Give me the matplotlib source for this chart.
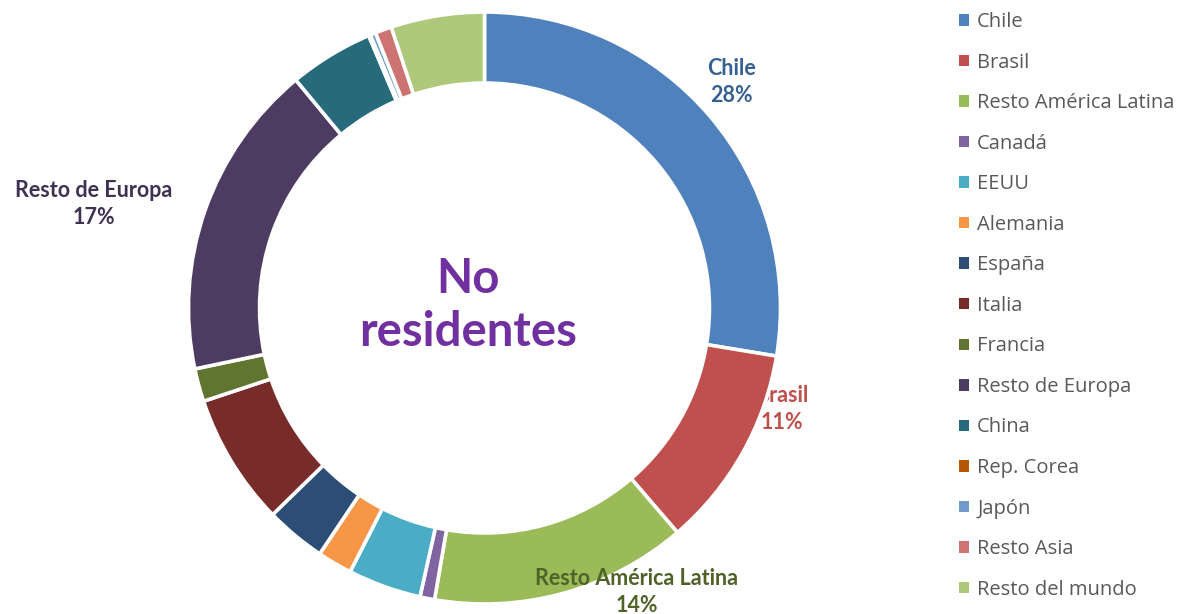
import matplotlib
matplotlib.use("Agg")
import matplotlib.pyplot as plt
from matplotlib.patches import Patch

# shares of non-resident visitors (percent), read off the ring, clockwise from top
paises = ["Chile", "Brasil", "Resto América Latina", "Canadá", "EEUU", "Alemania",
          "España", "Italia", "Francia", "Resto de Europa", "China", "Rep. Corea",
          "Japón", "Resto Asia", "Resto del mundo"]
valores = [27.6, 11.1, 14.0, 0.8, 4.0, 1.9, 3.3, 7.2, 1.8, 17.3, 4.6, 0.1, 0.3, 0.9, 5.1]
colores = ["#4F81BD", "#C0504D", "#9BBB59", "#8064A2", "#4BACC6", "#F79646",
           "#2C4D75", "#772C2A", "#5F7530", "#4D3B62", "#276A7C", "#B65708",
           "#729ACA", "#CD7371", "#AFC97A"]

# only these get a label on the chart: colour, x, y, drawn under the ring?
etiquetas = {"Chile": ("#376092", 0.833, 0.765, False),
             "Brasil": ("#C0504D", 1.005, -0.34, True),
             "Resto América Latina": ("#4F6228", 0.515, -0.96, False),
             "Resto de Europa": ("#3F3151", -1.32, 0.35, False)}

W, H = 1187, 614
fig = plt.figure(figsize=(W / 100, H / 100), dpi=100)

cx, cy, r = 484.5, 308, 296
ax = fig.add_axes([(cx - r) / W, (H - cy - r) / H, 2 * r / W, 2 * r / H])
wedges, _ = ax.pie(valores, colors=colores, startangle=90, counterclock=False,
                   radius=1, wedgeprops=dict(width=0.24, edgecolor="white", linewidth=2.6))
ax.set_xlim(-1, 1)
ax.set_ylim(-1, 1)
ax.set_aspect("equal")
ax.axis("off")

for nombre, (col, x, y, debajo) in etiquetas.items():
    pct = round(valores[paises.index(nombre)])
    # Brasil's label sits partly behind its wedge, like in the original
    ax.text(x, y, f"{nombre}\n{pct}%", color=col, fontsize=15.5, fontweight="bold",
            family="Lato", ha="center", va="center", linespacing=1.35,
            zorder=0.5 if debajo else 3, clip_on=False)

ax.text(-0.056, 0.008, "No\nresidentes", color="#7030A0", fontsize=34, fontweight="bold",
        family="Lato", ha="center", va="center", linespacing=1.25)

handles = [Patch(facecolor=c, edgecolor="none") for c in colores]
leg = fig.legend(handles, paises, loc="upper left", bbox_to_anchor=(951 / W, 1 - 4 / H),
                 frameon=False, handlelength=0.5, handleheight=0.5,
                 handletextpad=0.4, labelspacing=1.02, borderaxespad=0,
                 prop={"family": "Open Sans", "size": 14.5})
for t in leg.get_texts():
    t.set_color("#595959")

fig.savefig("out.png", dpi=100)
